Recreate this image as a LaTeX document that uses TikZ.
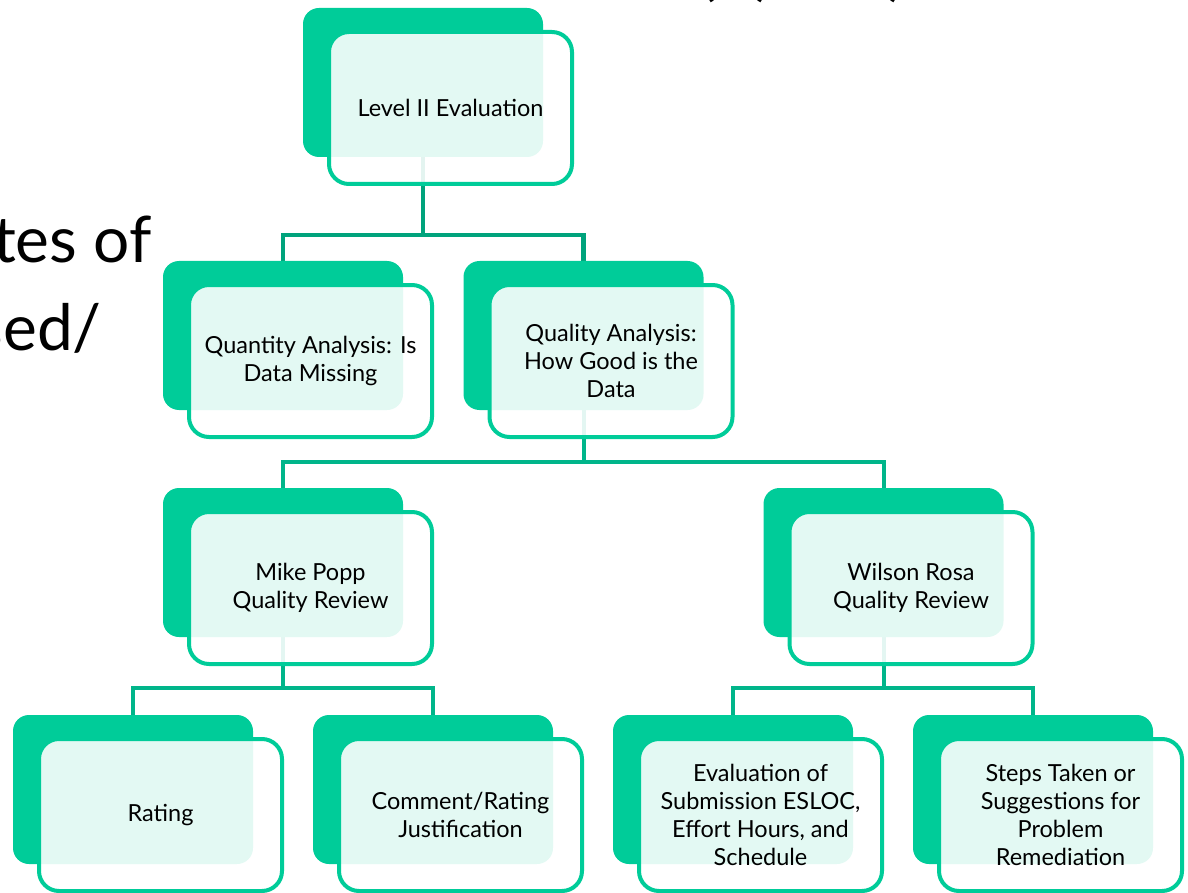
\documentclass[tikz,border=0pt]{standalone}
\usepackage{fontspec}
\setmainfont{Lato}
\usetikzlibrary{backgrounds}
\definecolor{bk}{HTML}{00CC99}
\definecolor{cnA}{HTML}{00A37C}
\definecolor{cnB}{HTML}{00B58A}
\tikzset{
  backbox/.style={fill=bk, draw=none, rounded corners=16pt, minimum width=240pt, minimum height=149pt, inner sep=0pt},
  frontbox/.style={fill=white, fill opacity=0.89, text opacity=1, draw=bk, line width=4pt, rounded corners=20pt,
     minimum width=243pt, minimum height=152pt, inner sep=0pt, align=center, font=\fontsize{23.5}{28}\selectfont, text=black},
  connA/.style={draw=cnA, line width=4.5pt},
  connB/.style={draw=cnB, line width=4pt},
  bigtxt/.style={font=\fontsize{64}{70}\selectfont, inner sep=0pt, text=black}
}
\begin{document}
\begin{tikzpicture}[x=1pt,y=-1pt]
\useasboundingbox (0,0) rectangle (1188,893);
\clip (0,0) rectangle (1188,893);
% partial background text
\node[bigtxt, anchor=base east] (lt1) at (152,263) {tes of};
\node[bigtxt, anchor=base east] (lt2) at (102,350) {sed/};
\node[bigtxt, anchor=south] (tp1) at (708,3) {(};
\node[bigtxt, anchor=south] (tp2) at (764,3) {)};
\node[bigtxt, anchor=south] (tp3) at (897,3) {)};
% units
\node[backbox] (bL) at (423,82.5) {};
\node[frontbox] (fL) at (450.5,108) {Level II Evaluation};
\node[backbox] (bQn) at (283,335.5) {};
\node[frontbox] (fQn) at (310.5,361) {Quantity Analysis: Is\\Data Missing};
\node[backbox] (bQl) at (583.5,335.5) {};
\node[frontbox] (fQl) at (611,361) {Quality Analysis:\\How Good is the\\Data};
\node[backbox] (bMP) at (283,562.5) {};
\node[frontbox] (fMP) at (310.5,588) {Mike Popp\\Quality Review};
\node[backbox] (bWR) at (883.5,562.5) {};
\node[frontbox] (fWR) at (911,588) {Wilson Rosa\\Quality Review};
\node[backbox] (bR) at (133,789.5) {};
\node[frontbox] (fR) at (160.5,815) {Rating};
\node[backbox] (bC) at (433,789.5) {};
\node[frontbox] (fC) at (460.5,815) {Comment/Rating\\Justification};
\node[backbox] (bE) at (733,789.5) {};
\node[frontbox] (fE) at (760.5,815) {Evaluation of\\Submission ESLOC,\\Effort Hours, and\\Schedule};
\node[backbox] (bS) at (1033,789.5) {};
\node[frontbox] (fS) at (1060.5,815) {Steps Taken or\\Suggestions for\\Problem\\Remediation};
% connectors
\coordinate (h1) at (0,235);
\coordinate (h2) at (0,462);
\coordinate (h3) at (0,688);
\begin{pgfonlayer}{background}
\draw[connA] (bL.south) -- (bL.south |- h1);
\draw[connA] (bQn.north) |- (h1 -| bQl.north) -- (bQl.north);
\draw[connB] (bQl.south) -- (bQl.south |- h2);
\draw[connB] (bMP.north) |- (h2 -| bWR.north) -- (bWR.north);
\draw[connB] (bMP.south) -- (bMP.south |- h3);
\draw[connB] (bR.north) |- (h3 -| bC.north) -- (bC.north);
\draw[connB] (bWR.south) -- (bWR.south |- h3);
\draw[connB] (bE.north) |- (h3 -| bS.north) -- (bS.north);
\end{pgfonlayer}
\end{tikzpicture}
\end{document}
